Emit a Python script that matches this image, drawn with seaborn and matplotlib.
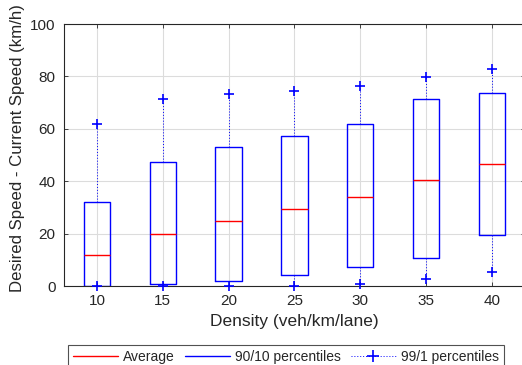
import matplotlib
matplotlib.use("Agg")
import matplotlib.pyplot as plt
import seaborn as sns
import numpy as np
from matplotlib.lines import Line2D

# Data
densities = ["10", "15", "20", "25", "30", "35", "40"]
p1 = [0.0, 0.0, 0.0, 0.0, 0.6, 2.5, 5.2]
p10 = [0.0, 0.6, 2.0, 4.2, 7.4, 10.7, 19.4]
average = [12.0, 19.7, 25.0, 29.3, 33.9, 40.5, 46.5]
p90 = [32.2, 47.5, 53.0, 57.1, 61.8, 71.2, 73.8]
p99 = [61.8, 71.5, 73.4, 74.6, 76.2, 79.6, 82.9]

sns.set_theme(style="white")
plt.rcParams['font.family'] = ['Liberation Sans', 'DejaVu Sans']

fig = plt.figure(figsize=(5.22, 3.65), dpi=100)
ax = fig.add_axes([64/522, 79/365, (524.7-64)/522, 262/365])

stats = []
for i, d in enumerate(densities):
    stats.append(dict(med=average[i], q1=p10[i], q3=p90[i],
                      whislo=p1[i], whishi=p99[i], fliers=[], label=d))

blue = (0, 0, 1)
red = (1, 0, 0)
ax.bxp(stats, positions=range(len(densities)), widths=0.4, showcaps=False,
       boxprops=dict(color=blue, linewidth=1.0),
       whiskerprops=dict(color=blue, linewidth=0.7, linestyle=(0, (1, 2))),
       medianprops=dict(color=red, linewidth=1.0))
sns.scatterplot(x=list(range(len(densities))) * 2, y=p99 + p1, marker='+',
                color=blue, s=55, linewidth=1.2, ax=ax, legend=False, zorder=5,
                clip_on=False)

ax.set_xlim(-0.5, 6.5)
ax.set_ylim(0, 100)
ax.set_yticks([0, 20, 40, 60, 80, 100])
ax.set_xticks(range(len(densities)))
ax.set_xticklabels(densities)
ax.grid(True, color='#dcdcdc', linewidth=0.8)
ax.set_axisbelow(True)
for s in ax.spines.values():
    s.set_color('#262626')
    s.set_linewidth(0.8)
ax.tick_params(direction='in', length=3, width=0.6, colors='#262626',
               labelsize=11, labelcolor='#262626', top=True, right=True,
               bottom=True, left=True, pad=6)
ax.set_xlabel("Density (veh/km/lane)", fontsize=12.5, color='#262626', labelpad=4)
ax.set_ylabel("Desired Speed - Current Speed (km/h)", fontsize=12.1,
              color='#262626')
ax.yaxis.set_label_coords(-0.084, 0.525)

handles = [Line2D([], [], color=red, lw=1),
           Line2D([], [], color=blue, lw=1),
           Line2D([], [], color=blue, lw=0.7, linestyle=(0, (1, 2)),
                  marker='+', markersize=8, markeredgewidth=1.2)]
labels = ["Average", "90/10 percentiles", "99/1 percentiles"]
leg = fig.legend(handles, labels, loc='upper left', ncol=3,
                 bbox_to_anchor=(68/522, 1 - 345/365), fontsize=10,
                 frameon=True, fancybox=False, edgecolor='#262626',
                 handlelength=3.25, columnspacing=0.72, handletextpad=0.36,
                 borderpad=0.36, borderaxespad=0)
leg.get_frame().set_linewidth(0.8)

fig.savefig("out.png", dpi=100)
